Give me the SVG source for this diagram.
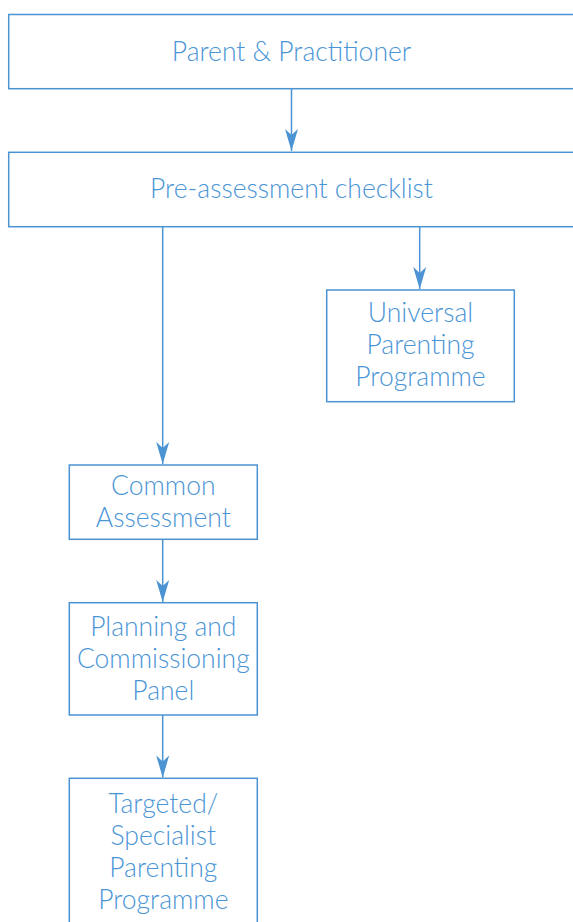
<svg xmlns="http://www.w3.org/2000/svg" width="573" height="922" viewBox="0 0 573 922">
  <style>
    .box { fill: #ffffff; stroke: #4b93d2; stroke-width: 1.5; }
    .wire { fill: none; stroke: #4b93d2; stroke-width: 1.5; }
    .label { font-family: Lato, "Open Sans", "Liberation Sans", sans-serif; font-weight: 300; font-size: 26.5px; fill: #4a95d6; text-anchor: middle; }
  </style>
  <defs>
    <!-- arrowhead drawn along +x, tip at the origin -->
    <marker id="head" viewBox="-23 -7 24 14" refX="0" refY="0" markerWidth="24" markerHeight="14" markerUnits="userSpaceOnUse" orient="auto">
      <path d="M0,0 L-22,-6.5 L-16,0 L-22,6.5 Z" fill="#4b93d2"/>
    </marker>
  </defs>
  <rect width="573" height="922" fill="#ffffff"/>

  <g id="connectors">
    <path class="wire" d="M291.5,88.7 V151" marker-end="url(#head)"/>
    <path class="wire" d="M162.7,226.7 V464" marker-end="url(#head)"/>
    <path class="wire" d="M419.7,226.7 V289" marker-end="url(#head)"/>
    <path class="wire" d="M162.7,539.3 V602" marker-end="url(#head)"/>
    <path class="wire" d="M162.7,715 V777.5" marker-end="url(#head)"/>
  </g>

  <g id="parent-practitioner">
    <rect class="box" x="8.7" y="14.5" width="580" height="74.2"/>
    <text class="label" x="291.5" y="61">Parent &amp; Practitioner</text>
  </g>

  <g id="pre-assessment">
    <rect class="box" x="8.7" y="152.3" width="580" height="74.4"/>
    <text class="label" x="291.5" y="198">Pre-assessment checklist</text>
  </g>

  <g id="universal-programme">
    <rect class="box" x="326.7" y="290" width="187.6" height="111.7"/>
    <text class="label" x="420.5" y="322">Universal</text>
    <text class="label" x="420.5" y="354">Parenting</text>
    <text class="label" x="420.5" y="386">Programme</text>
  </g>

  <g id="common-assessment">
    <rect class="box" x="69.3" y="465" width="188" height="74.3"/>
    <text class="label" x="163.3" y="495">Common</text>
    <text class="label" x="163.3" y="527">Assessment</text>
  </g>

  <g id="planning-panel">
    <rect class="box" x="69.3" y="602.7" width="188" height="112.3"/>
    <text class="label" x="163.3" y="636">Planning and</text>
    <text class="label" x="163.3" y="668">Commissioning</text>
    <text class="label" x="163.3" y="700">Panel</text>
  </g>

  <g id="targeted-programme">
    <rect class="box" x="69.3" y="778.3" width="188" height="160"/>
    <text class="label" x="163.3" y="813">Targeted/</text>
    <text class="label" x="163.3" y="845">Specialist</text>
    <text class="label" x="163.3" y="877">Parenting</text>
    <text class="label" x="163.3" y="909">Programme</text>
  </g>
</svg>
